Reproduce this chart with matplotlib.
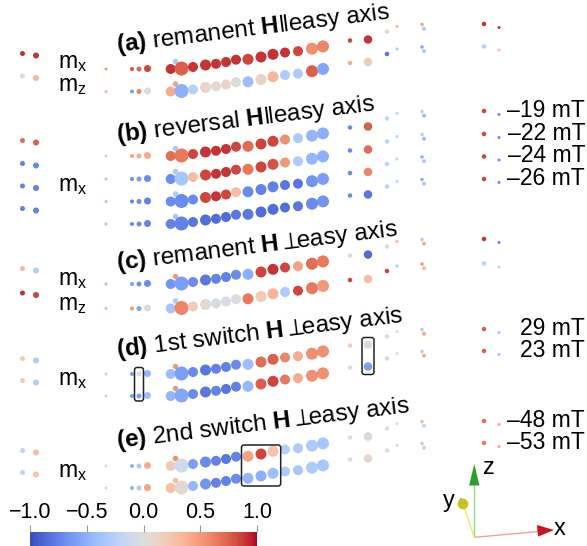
import numpy as np
import matplotlib
matplotlib.use("Agg")
import matplotlib.pyplot as plt
from matplotlib.patches import FancyBboxPatch, Polygon, Circle
from matplotlib import colors, cm

plt.rcParams['font.family'] = ['Liberation Sans', 'DejaVu Sans']
plt.rcParams['mathtext.fontset'] = 'custom'
plt.rcParams['mathtext.rm'] = 'Liberation Sans'
plt.rcParams['mathtext.bf'] = 'Liberation Sans:bold'
plt.rcParams['mathtext.it'] = 'Liberation Sans:italic'
plt.rcParams['mathtext.sf'] = 'Liberation Sans'

# ---------------- data: magnetisation component of each site ----------------
# site order: 2 left sites, 1 tiny, 3 small, 1 adatom, 14 chain sites, 8 far sites
a_mx = [0.9, 0.9, 0.5, 0.8, 0.7, 0.85, -0.3,
        0.9, 0.75, 0.9, 0.9, 0.9, 0.9, 0.9, 0.85, 0.9, 0.9, 0.9, 0.85, 0.55, 0.6,
        0.85, 0.9, 0.05, 0.35, 0.45, -0.3, 0.9, 0.9]
a_mz = [0.0, 0.35, 0.35, -0.6, 0.6, 0.0, 0.45,
        0.4, -0.5, -0.25, 0.1, 0.05, 0.1, 0.0, -0.4, 0.15, 0.35, -0.3, -0.3, 0.75, -0.55,
        0.4, 0.2, -0.8, -0.3, -0.55, -0.3, -0.25, 0.3]
b_m19 = [0.7, 0.75, -0.2, 0.45, 0.4, 0.4, -0.3,
         0.7, 0.65, 0.85, 0.9, 0.9, 0.9, 0.85, 0.7, 0.85, 0.85, 0.55, -0.3, -0.45, -0.5,
         -0.7, 0.75, -0.2, -0.2, -0.25, -0.4, 0.85, -0.7]
b_m22 = [-0.75, -0.7, -0.3, -0.7, -0.6, -0.7, -0.3,
         -0.7, -0.35, 0.3, 0.85, 0.9, 0.9, 0.85, 0.65, 0.85, 0.8, 0.5, -0.3, -0.45, -0.5,
         -0.7, 0.7, -0.2, -0.2, -0.25, -0.4, 0.85, -0.7]
b_m24 = [-0.75, -0.75, -0.35, -0.75, -0.7, -0.75, -0.3,
         -0.7, -0.7, -0.7, 0.85, 0.9, 0.85, 0.3, -0.7, -0.75, -0.75, -0.8, -0.8, -0.65, -0.6,
         -0.7, 0.6, -0.2, -0.2, -0.5, -0.3, 0.85, -0.7]
b_m26 = [-0.75, -0.75, -0.35, -0.75, -0.7, -0.75, -0.35,
         -0.75, -0.75, -0.8, -0.85, -0.85, -0.85, -0.8, -0.8, -0.85, -0.85, -0.85, -0.8, -0.7, -0.65,
         -0.7, -0.8, -0.2, -0.2, -0.5, -0.3, 0.85, -0.7]
c_mx = [0.35, -0.3, -0.4, -0.6, -0.65, -0.7, 0.5,
        -0.65, -0.6, -0.7, -0.8, -0.75, -0.75, -0.7, -0.5, 0.85, 0.9, 0.85, 0.45, 0.7, 0.65,
        0.05, -0.85, 0.0, 0.35, -0.3, 0.4, 0.9, -0.75]
c_mz = [0.9, 0.85, -0.3, 0.5, -0.55, 0.05, -0.3,
        -0.35, 0.6, 0.2, 0.05, -0.05, -0.05, 0.0, 0.65, 0.2, 0.35, -0.3, 0.85, 0.65, 0.5,
        0.85, 0.3, 0.85, -0.3, 0.5, 0.3, -0.25, -0.2]
d_p29 = [0.2, -0.3, -0.2, -0.6, 0.0, -0.45, 0.5,
         -0.4, -0.6, -0.7, -0.8, -0.75, -0.75, -0.7, -0.4, 0.7, 0.75, 0.6, 0.4, 0.55, 0.55,
         0.15, 0.0, 0.0, 0.05, -0.3, 0.4, 0.75, -0.35]
d_p23 = [0.2, -0.3, -0.2, -0.6, -0.6, -0.4, 0.5,
         -0.45, -0.55, -0.7, -0.8, -0.75, -0.8, -0.75, -0.45, 0.75, 0.85, 0.65, 0.4, 0.55, 0.55,
         0.0, -0.6, -0.1, 0.05, -0.3, 0.4, 0.75, -0.35]
e_m48 = [-0.2, 0.3, -0.1, -0.5, -0.3, 0.4, 0.55,
         0.2, -0.1, -0.6, -0.7, -0.75, -0.8, -0.75, 0.45, 0.85, 0.25, -0.25, -0.3, -0.3, -0.35,
         0.05, 0.05, 0.0, 0.1, 0.3, -0.2, 0.7, 0.4]
e_m53 = [-0.2, 0.25, -0.1, -0.5, -0.3, 0.45, 0.3,
         0.3, 0.05, -0.45, -0.65, -0.75, -0.75, -0.7, -0.45, -0.5, -0.4, -0.3, -0.35, -0.3, -0.35,
         0.05, 0.1, 0.0, 0.1, 0.3, -0.2, 0.65, 0.4]

panel_titles = [r"$\mathbf{(a)}$ remanent $\mathbf{H}\Vert$easy axis",
                r"$\mathbf{(b)}$ reversal $\mathbf{H}\Vert$easy axis",
                r"$\mathbf{(c)}$ remanent $\mathbf{H}\perp\!\!$easy axis",
                r"$\mathbf{(d)}$ 1st switch $\mathbf{H}\perp\!\!$easy axis",
                r"$\mathbf{(e)}$ 2nd switch $\mathbf{H}\perp\!\!$easy axis"]
field_labels = {"b": ["\u201319 mT", "\u201322 mT", "\u201324 mT", "\u201326 mT"],
                "d": ["29 mT", "23 mT"],
                "e": ["\u201348 mT", "\u201353 mT"]}
cbar_ticks = [-1.0, -0.5, 0.0, 0.5, 1.0]
cbar_ticklabels = ["\u22121.0", "\u22120.5", "0.0", "0.5", "1.0"]

# ---------------- layout (projected geometry of the sites, in pixels) --------
site_x = np.array([22.5, 36, 106, 132, 139, 147.5, 175.5,
                   170.7, 181.5, 193, 205.5, 216, 226, 236, 248, 261, 273, 285, 298, 312, 323,
                   350, 368, 387, 397, 422, 424, 484, 499])
site_dy = np.array([-15.5, -13.5, 0, 0, 0, -0.5, -7.5,
                    0, -0.5, -2, -4, -5.2, -7, -9.3, -9.7, -12, -14.7, -16.5, -17.8, -20.3, -22.6,
                    -28.5, -29.5, -37.5, -42.5, -44.5, -40.3, -45, -41.5])
site_d = np.array([5, 6, 3, 4, 5, 7, 5.5,
                   10, 14, 10, 11, 10, 10, 10, 11, 11, 11, 10, 10, 12, 12,
                   4.5, 8.5, 4.5, 3, 3.5, 4, 4.5, 3])

rows = [("a", a_mx, 69), ("a", a_mz, 91.5),
        ("b", b_m19, 156), ("b", b_m22, 179), ("b", b_m24, 201.5), ("b", b_m26, 224),
        ("c", c_mx, 284), ("c", c_mz, 308.5),
        ("d", d_p29, 374), ("d", d_p23, 396),
        ("e", e_m48, 466), ("e", e_m53, 488)]

W, H = 587, 546
fig = plt.figure(figsize=(W / 100, H / 100), dpi=100)
ax = fig.add_axes([0, 0, 1, 1])
ax.set_xlim(0, W)
ax.set_ylim(H, 0)
ax.axis('off')

cmap = plt.get_cmap('coolwarm')
norm = colors.Normalize(-1, 1)
sizes = (site_d * 0.72) ** 2

for panel, vals, y0 in rows:
    ax.scatter(site_x, y0 + site_dy, s=sizes, c=vals, cmap=cmap, norm=norm,
               linewidths=0, zorder=3)

fs = 16.5
# field labels next to far right sites
F7 = 27
for p in ["b", "d", "e"]:
    ys = [y0 for (pp, v, y0) in rows if pp == p]
    for lab, y0 in zip(field_labels[p], ys):
        ax.text(585, y0 + site_dy[F7] - 0.5, lab, ha='right', va='center', fontsize=fs)

# m labels
ax.text(58, 68.5, r"m$_{\rm x}$", fontsize=fs, va='baseline')
ax.text(58, 91.5, r"m$_{\rm z}$", fontsize=fs, va='baseline')
ax.text(58, 191.5, r"m$_{\rm x}$", fontsize=fs, va='baseline')
ax.text(58, 285, r"m$_{\rm x}$", fontsize=fs, va='baseline')
ax.text(58, 310, r"m$_{\rm z}$", fontsize=fs, va='baseline')
ax.text(58, 385, r"m$_{\rm x}$", fontsize=fs, va='baseline')
ax.text(58, 477, r"m$_{\rm x}$", fontsize=fs, va='baseline')

# panel titles
title_base = [52.5, 142, 270, 357, 448.5]
for t, yb in zip(panel_titles, title_base):
    ax.text(117, yb, t, fontsize=17.5, rotation=7, rotation_mode='anchor',
            ha='left', va='baseline')

# highlight boxes (computed from site template)
def rbox(x0, x1, y0, y1):
    ax.add_patch(FancyBboxPatch((x0, y0), x1 - x0, y1 - y0,
                                boxstyle="round,pad=0,rounding_size=2.5",
                                fc='none', ec='#222222', lw=1.1, zorder=5))

yd1, yd2 = 374, 396
ye1, ye2 = 466, 488
rbox(site_x[4] - 4.5, site_x[4] + 4.5, yd1 + site_dy[4] - 6.5, yd2 + site_dy[4] + 5)
rbox(site_x[22] - 6, site_x[22] + 6, yd1 + site_dy[22] - 7, yd2 + site_dy[22] + 8)
rbox(site_x[14] - 6.5, site_x[16] + 7.7, ye1 + site_dy[16] - 6.3, ye2 + site_dy[14] + 7.7)

# axis triad
ox, oy = 474.3, 537.3
ax.plot([ox, ox], [oy, 478], color='#8fd88f', lw=1, zorder=4)
ax.add_patch(Polygon([(ox, 464), (ox - 5.2, 485.5), (ox + 5.2, 485.5)], closed=True,
                     fc='#2e9e2e', ec='none', zorder=5))
ax.plot([ox, 538], [oy, 531.6], color='#f2a0a0', lw=1, zorder=4)
ax.add_patch(Polygon([(554, 530), (537, 525), (538, 536.6)], closed=True,
                     fc='#c8141c', ec='none', zorder=5))
ax.plot([ox, 463], [oy, 504], color='#eaea70', lw=1, zorder=4)
ax.add_patch(Polygon([(461, 498), (458.5, 502), (464, 501.5)], closed=True,
                     fc='#333333', ec='none', zorder=5))
ax.add_patch(Circle((463, 504), 5.3, fc='#c9c41a', ec='none', zorder=6))
ax.text(489, 468, "z", fontsize=17, ha='center', va='center')
ax.text(449, 501, "y", fontsize=17, ha='center', va='center')
ax.text(560, 529, "x", fontsize=17, ha='center', va='center')

# colorbar
cax = fig.add_axes([30 / W, 0.0, 227 / W, 14 / H])
sm = cm.ScalarMappable(norm=norm, cmap=cmap)
cb = fig.colorbar(sm, cax=cax, orientation='horizontal', ticks=cbar_ticks)
cb.outline.set_visible(False)
cax.xaxis.set_ticks_position('top')
cax.xaxis.set_label_position('top')
cax.set_xticklabels(cbar_ticklabels)
cax.tick_params(axis='x', length=5, width=0.8, color='#999999', labelsize=15.5, pad=1.5)

fig.savefig("out.png", dpi=100)
